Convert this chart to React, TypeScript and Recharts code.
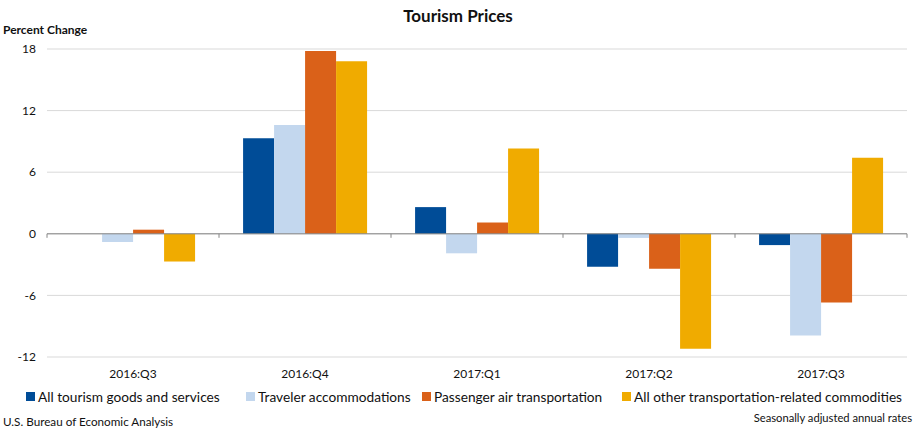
import { BarChart, Bar, XAxis, YAxis, CartesianGrid, ReferenceLine } from "recharts";

const quarters = ["2016:Q3", "2016:Q4", "2017:Q1", "2017:Q2", "2017:Q3"];
const allTourism = [0, 9.3, 2.6, -3.2, -1.1];
const accommodations = [-0.8, 10.6, -1.9, -0.4, -9.9];
const airTransport = [0.4, 17.8, 1.1, -3.4, -6.7];
const otherTransport = [-2.7, 16.8, 8.3, -11.2, 7.4];
const yTicks = [-12, -6, 0, 6, 12, 18];

const series = [
  { key: "all", name: "All tourism goods and services", color: "#004C97", values: allTourism },
  { key: "acc", name: "Traveler accommodations", color: "#C3D7EE", values: accommodations },
  { key: "air", name: "Passenger air transportation", color: "#DA6119", values: airTransport },
  { key: "other", name: "All other transportation-related commodities", color: "#F0AB00", values: otherTransport },
];

// left edge of each legend marker
const legendX = [26, 246, 422, 622];

const data = quarters.map((q, i) => {
  const row: any = { quarter: q };
  series.forEach((s) => (row[s.key] = s.values[i]));
  return row;
});

const FONT = "Lato, 'Open Sans', sans-serif";

// zero line with small ticks at category boundaries, like the excel axis
const ZeroLine = (props: any) => {
  const { x1, x2, y1 } = props;
  const n = quarters.length;
  const step = (x2 - x1) / n;
  return (
    <g>
      <line x1={x1} x2={x2} y1={y1} y2={y1} stroke="#868686" strokeWidth={1} />
      {quarters.concat([""]).map((_, i) => (
        <line key={i} x1={x1 + i * step} x2={x1 + i * step} y1={y1} y2={y1 + 4} stroke="#868686" strokeWidth={1} />
      ))}
    </g>
  );
};

export default function App() {
  return (
    <div style={{ position: "absolute", left: 0, top: 0, width: 916, height: 432, background: "#fff", fontFamily: FONT, color: "#111" }}>
      <div style={{ position: "absolute", top: 5, left: 0, width: 916, textAlign: "center", fontWeight: 700, fontSize: 17 }}>
        Tourism Prices
      </div>
      <div style={{ position: "absolute", top: 22, left: 3, fontWeight: 700, fontSize: 12 }}>Percent Change</div>

      <BarChart
        width={916}
        height={432}
        data={data}
        margin={{ top: 49, right: 9, bottom: 55, left: 0 }}
        barCategoryGap="14%"
        barGap={0}
      >
        <CartesianGrid vertical={false} stroke="#D9D9D9" />
        <XAxis
          dataKey="quarter"
          axisLine={false}
          tickLine={false}
          height={20}
          tickMargin={6}
          tick={{ fontSize: 12, fill: "#111", fontFamily: FONT }}
        />
        <YAxis
          domain={[-12, 18]}
          ticks={yTicks}
          width={47}
          axisLine={false}
          tickLine={false}
          tickMargin={5}
          tick={{ fontSize: 12, fill: "#111", fontFamily: FONT }}
        />
        <ReferenceLine y={0} shape={ZeroLine} />
        {series.map((s) => (
          <Bar key={s.key} dataKey={s.key} name={s.name} fill={s.color} isAnimationActive={false} />
        ))}
      </BarChart>

      {series.map((s, i) => (
        <div
          key={s.key}
          style={{ position: "absolute", top: 388, left: legendX[i], display: "flex", alignItems: "center", fontSize: 13.7, whiteSpace: "nowrap" }}
        >
          <span style={{ width: 9, height: 9, background: s.color, display: "inline-block", marginRight: 3 }} />
          <span>{s.name}</span>
        </div>
      ))}

      <div style={{ position: "absolute", top: 414, left: 3, fontSize: 11.7 }}>U.S. Bureau of Economic Analysis</div>
      <div style={{ position: "absolute", top: 411, right: 4, fontSize: 11.2 }}>Seasonally adjusted annual rates</div>
    </div>
  );
}
